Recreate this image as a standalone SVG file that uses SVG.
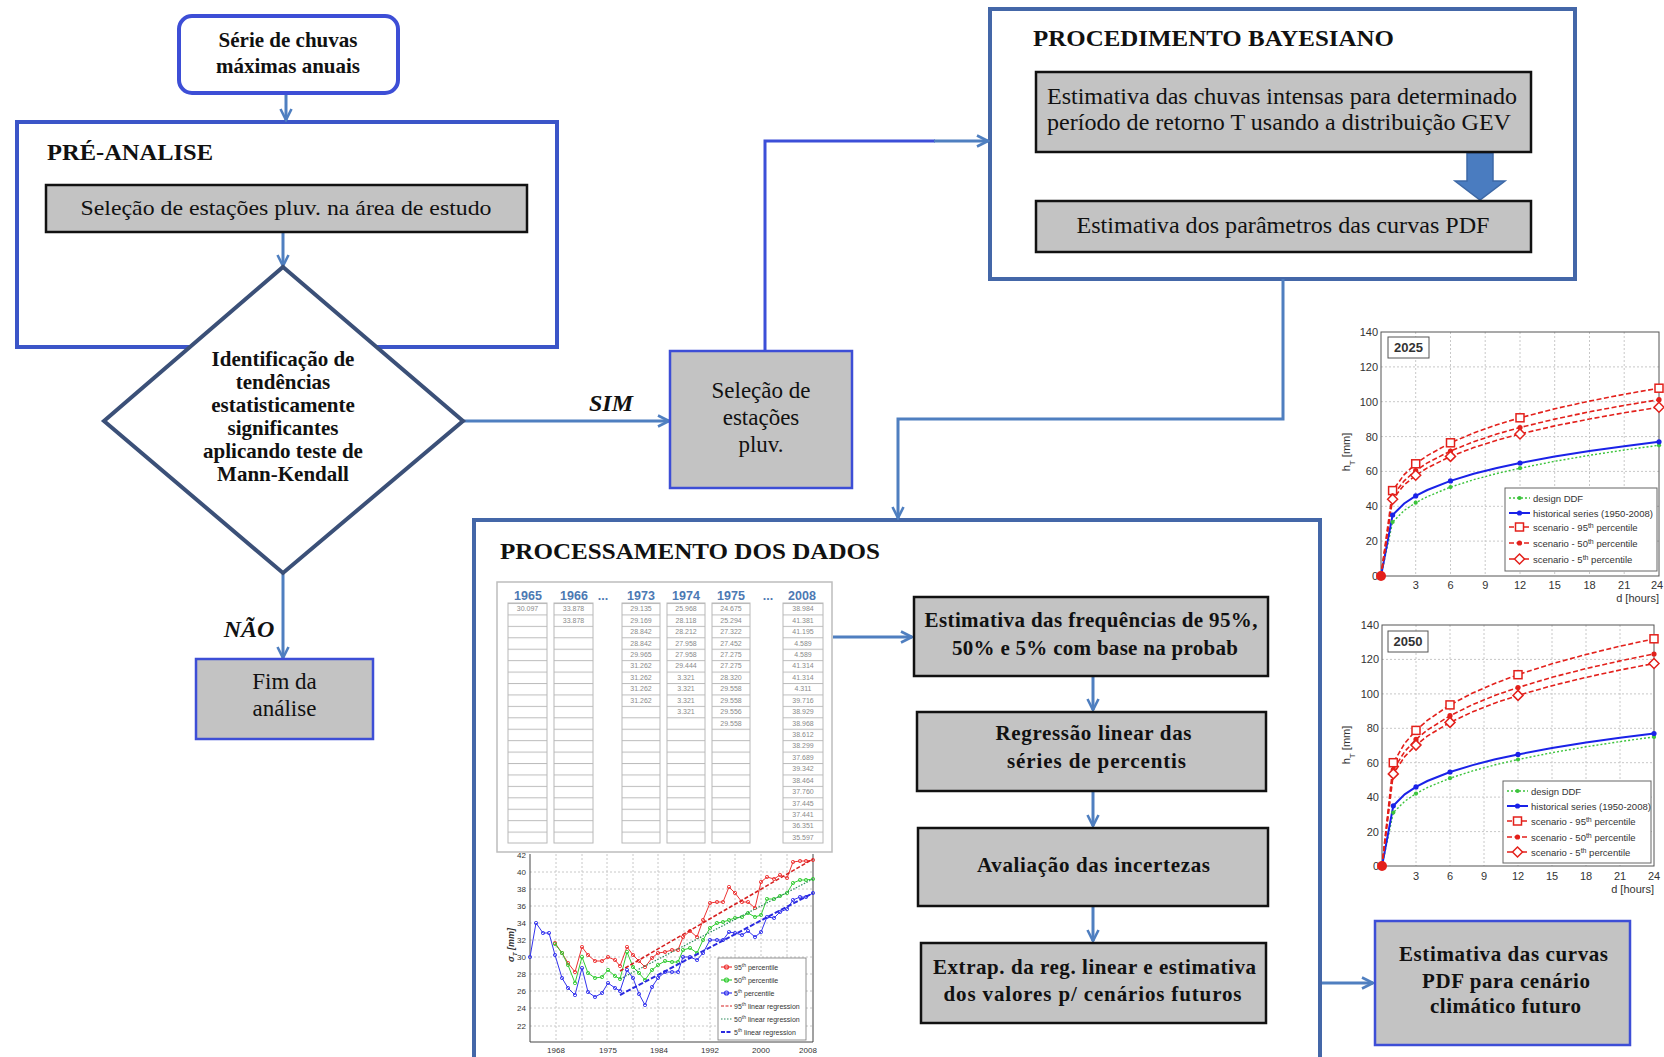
<svg xmlns="http://www.w3.org/2000/svg" xmlns:xlink="http://www.w3.org/1999/xlink" width="1664" height="1057" viewBox="0 0 1664 1057">
<style>
.serif{font-family:"Liberation Serif","Times New Roman",serif;fill:#111}
.b{font-weight:bold}
.title{font-family:"Liberation Serif",serif;font-weight:bold;font-size:24px;fill:#111}
.gbox{fill:#c3c3c3;stroke:#111;stroke-width:2.5}
.bbox{fill:#c3c3c3;stroke:#3d4ed6;stroke-width:2.5}
.conn{fill:none;stroke:#4f7fc0;stroke-width:3}
.sans{font-family:"Liberation Sans",Arial,sans-serif;fill:#333}
.grid{stroke:#c8c8c8;stroke-width:1;stroke-dasharray:2 2;fill:none}
.frame{fill:none;stroke:#555;stroke-width:1}
.cell{font-family:"Liberation Sans",Arial,sans-serif;font-size:7px;fill:#8a8a8a;text-anchor:middle}
.hdr{font-family:"Liberation Sans",Arial,sans-serif;font-size:12.5px;font-weight:bold;fill:#4d79b3;text-anchor:middle}
</style>
<defs>
<marker id="arr" viewBox="0 0 14 14" refX="12.5" refY="7" markerWidth="14" markerHeight="14" markerUnits="userSpaceOnUse" orient="auto">
<path d="M1.5,1.5 L12.5,7 L1.5,12.5" fill="none" stroke="#4f7fc0" stroke-width="2.6"/>
</marker>
<pattern id="rows" x="0" y="603" width="20" height="11.43" patternUnits="userSpaceOnUse">
<rect width="20" height="11.43" fill="#fff"/>
<line x1="0" y1="0.5" x2="20" y2="0.5" stroke="#bdbdbd" stroke-width="1"/>
</pattern>
<rect id="sq" x="-4" y="-4" width="8" height="8" fill="#fff" stroke="#e3201b" stroke-width="1.5"/>
<path id="dm" d="M0,-5 L5,0 L0,5 L-5,0 Z" fill="#fff" stroke="#e3201b" stroke-width="1.5"/>
<circle id="dR" r="2.6" fill="#e3201b"/>
<circle id="dB" r="2.6" fill="#1a22e8"/>
<circle id="dG" r="2.1" fill="#3cc43c"/>
<marker id="mR" viewBox="0 0 6 6" refX="3" refY="3" markerWidth="5" markerHeight="5" markerUnits="userSpaceOnUse"><circle cx="3" cy="3" r="2" fill="none" stroke="#e33" stroke-width="1"/></marker>
<marker id="mG" viewBox="0 0 6 6" refX="3" refY="3" markerWidth="5" markerHeight="5" markerUnits="userSpaceOnUse"><circle cx="3" cy="3" r="2" fill="none" stroke="#3c3" stroke-width="1"/></marker>
<marker id="mB" viewBox="0 0 6 6" refX="3" refY="3" markerWidth="5" markerHeight="5" markerUnits="userSpaceOnUse"><circle cx="3" cy="3" r="2" fill="none" stroke="#33e" stroke-width="1"/></marker>
</defs>

<rect width="1664" height="1057" fill="#fff"/>

<!-- Containers -->
<g id="pre-analise">
<rect x="17" y="122" width="540" height="225" fill="#fff" stroke="#3b55c8" stroke-width="4"/>
<text class="title" x="47" y="160" textLength="166" lengthAdjust="spacingAndGlyphs">PRÉ-ANALISE</text>
</g>
<g id="procedimento-bayesiano">
<rect x="990" y="9" width="585" height="270" fill="#fff" stroke="#4467a8" stroke-width="4"/>
<text class="title" x="1033" y="46" textLength="361" lengthAdjust="spacingAndGlyphs">PROCEDIMENTO BAYESIANO</text>
</g>
<g id="processamento-dos-dados">
<rect x="474" y="520" width="846" height="540" fill="#fff" stroke="#4467a8" stroke-width="4"/>
<text class="title" x="500" y="559" textLength="380" lengthAdjust="spacingAndGlyphs">PROCESSAMENTO DOS DADOS</text>
</g>

<!-- Connectors -->
<g id="connectors">
<path class="conn" d="M286,93 V120" marker-end="url(#arr)"/>
<path class="conn" d="M283,232 V266" marker-end="url(#arr)"/>
<path class="conn" d="M463,421 H669" marker-end="url(#arr)"/>
<path class="conn" d="M283,573 V658" marker-end="url(#arr)"/>
<path fill="none" stroke="#3c4fd8" stroke-width="3" d="M765,350 V141 H935"/>
<path class="conn" d="M934,141 H988" marker-end="url(#arr)"/>
<path class="conn" d="M1283,279 V419 H898 V518" marker-end="url(#arr)"/>
<path class="conn" d="M833,637 H912" marker-end="url(#arr)"/>
<path class="conn" d="M1093,676 V710" marker-end="url(#arr)"/>
<path class="conn" d="M1093,791 V826" marker-end="url(#arr)"/>
<path class="conn" d="M1093,906 V941" marker-end="url(#arr)"/>
<path class="conn" d="M1322,983 H1373" marker-end="url(#arr)"/>
<path d="M1467,153 H1493 V181 H1505 L1480,200 L1455,181 H1467 Z" fill="#4a7cc0" stroke="#3d68a6" stroke-width="1.5"/>
<text class="serif b" x="611" y="411" font-size="24" font-style="italic" text-anchor="middle">SIM</text>
<text class="serif b" x="249" y="637" font-size="24" font-style="italic" text-anchor="middle">NÃO</text>
</g>

<!-- Nodes -->
<g id="serie-chuvas">
<rect x="179" y="16" width="219" height="77" rx="13" fill="#fff" stroke="#3d4ed6" stroke-width="4"/>
<text class="serif b" x="288" y="47" font-size="21" text-anchor="middle">Série de chuvas</text>
<text class="serif b" x="288" y="73" font-size="21" text-anchor="middle">máximas anuais</text>
</g>
<g id="selecao-area">
<rect class="gbox" x="46" y="185" width="481" height="47"/>
<text class="serif" x="286" y="215" font-size="22" text-anchor="middle" textLength="411" lengthAdjust="spacingAndGlyphs">Seleção de estações pluv. na área de estudo</text>
</g>
<g id="mann-kendall">
<path d="M283,267 L463,421 L283,573 L104,421 Z" fill="#fff" stroke="#3b5078" stroke-width="4" stroke-linejoin="miter"/>
<g class="serif b" font-size="21" text-anchor="middle">
<text x="283" y="366">Identificação de</text>
<text x="283" y="389">tendências</text>
<text x="283" y="412">estatisticamente</text>
<text x="283" y="435">significantes</text>
<text x="283" y="458">aplicando teste de</text>
<text x="283" y="481">Mann-Kendall</text>
</g>
</g>
<g id="selecao-estacoes">
<rect class="bbox" x="670" y="351" width="182" height="137"/>
<g class="serif" font-size="23" text-anchor="middle">
<text x="761" y="398">Seleção de</text>
<text x="761" y="425">estações</text>
<text x="761" y="452">pluv.</text>
</g>
</g>
<g id="fim-analise">
<rect class="bbox" x="196" y="659" width="177" height="80"/>
<text class="serif" x="284.5" y="689" font-size="23" text-anchor="middle">Fim da</text>
<text class="serif" x="284.5" y="716" font-size="23" text-anchor="middle">análise</text>
</g>
<g id="estimativa-chuvas">
<rect class="gbox" x="1036" y="72" width="495" height="80"/>
<text class="serif" x="1047" y="104" font-size="23" textLength="470" lengthAdjust="spacingAndGlyphs">Estimativa das chuvas intensas para determinado</text>
<text class="serif" x="1047" y="130" font-size="23" textLength="464" lengthAdjust="spacingAndGlyphs">período de retorno T usando a distribuição GEV</text>
</g>
<g id="estimativa-parametros">
<rect class="gbox" x="1036" y="201" width="495" height="51"/>
<text class="serif" x="1283" y="233" font-size="23" text-anchor="middle" textLength="413" lengthAdjust="spacingAndGlyphs">Estimativa dos parâmetros das curvas PDF</text>
</g>
<g id="estimativa-frequencias">
<rect class="gbox" x="914" y="597" width="354" height="79"/>
<text class="serif b" x="1091" y="627" font-size="21" text-anchor="middle" textLength="333" lengthAdjust="spacing">Estimativa das frequências de 95%,</text>
<text class="serif b" x="1095" y="655" font-size="21" text-anchor="middle" textLength="286" lengthAdjust="spacing">50% e 5% com base na probab</text>
</g>
<g id="regressao-linear">
<rect class="gbox" x="917" y="712" width="349" height="79"/>
<text class="serif b" x="1093.5" y="740" font-size="21" text-anchor="middle" textLength="196" lengthAdjust="spacing">Regressão linear das</text>
<text class="serif b" x="1096.5" y="768" font-size="21" text-anchor="middle" textLength="179" lengthAdjust="spacing">séries de percentis</text>
</g>
<g id="avaliacao-incertezas">
<rect class="gbox" x="918" y="828" width="350" height="78"/>
<text class="serif b" x="1093.5" y="872" font-size="21" text-anchor="middle" textLength="233" lengthAdjust="spacing">Avaliação das incertezas</text>
</g>
<g id="extrapolacao">
<rect class="gbox" x="921" y="943" width="345" height="80"/>
<text class="serif b" x="1094.5" y="974" font-size="21" text-anchor="middle" textLength="323" lengthAdjust="spacing">Extrap. da reg. linear e estimativa</text>
<text class="serif b" x="1092.5" y="1001" font-size="21" text-anchor="middle" textLength="298" lengthAdjust="spacing">dos valores p/ cenários futuros</text>
</g>
<g id="estimativa-curvas-pdf">
<rect class="bbox" x="1375" y="921" width="255" height="124"/>
<text class="serif b" x="1503.5" y="961" font-size="21" text-anchor="middle" textLength="209" lengthAdjust="spacing">Estimativa das curvas</text>
<text class="serif b" x="1506" y="988" font-size="21" text-anchor="middle" textLength="168" lengthAdjust="spacing">PDF para cenário</text>
<text class="serif b" x="1505.5" y="1013" font-size="21" text-anchor="middle" textLength="151" lengthAdjust="spacing">climático futuro</text>
</g>

<!-- Data table -->
<g id="tabela-dados">
<rect x="497" y="582" width="335" height="270" fill="#fff" stroke="#bdbdbd" stroke-width="1.5"/>
<text class="hdr" x="528" y="600">1965</text>
<text class="hdr" x="574" y="600">1966</text>
<text class="hdr" x="603" y="600" font-size="9">...</text>
<text class="hdr" x="641" y="600">1973</text>
<text class="hdr" x="686" y="600">1974</text>
<text class="hdr" x="731" y="600">1975</text>
<text class="hdr" x="768" y="600" font-size="9">...</text>
<text class="hdr" x="802" y="600">2008</text>
<g fill="url(#rows)" stroke="#b8b8b8" stroke-width="1">
<rect x="508" y="603" width="39" height="240"/>
<rect x="554" y="603" width="39" height="240"/>
<rect x="622" y="603" width="38" height="240"/>
<rect x="667" y="603" width="38" height="240"/>
<rect x="712" y="603" width="38" height="240"/>
<rect x="783" y="603" width="40" height="240"/>
</g>
<text class="cell"><tspan x="527.5" y="611.2">30.097</tspan></text>
<text class="cell"><tspan x="573.5" y="611.2">33.878</tspan><tspan x="573.5" y="622.6">33.878</tspan></text>
<text class="cell"><tspan x="641" y="611.2">29.135</tspan><tspan x="641" y="622.6">29.169</tspan><tspan x="641" y="634.1">28.842</tspan><tspan x="641" y="645.5">28.842</tspan><tspan x="641" y="656.9">29.965</tspan><tspan x="641" y="668.4">31.262</tspan><tspan x="641" y="679.8">31.262</tspan><tspan x="641" y="691.2">31.262</tspan><tspan x="641" y="702.6">31.262</tspan></text>
<text class="cell"><tspan x="686" y="611.2">25.968</tspan><tspan x="686" y="622.6">28.118</tspan><tspan x="686" y="634.1">28.212</tspan><tspan x="686" y="645.5">27.958</tspan><tspan x="686" y="656.9">27.958</tspan><tspan x="686" y="668.4">29.444</tspan><tspan x="686" y="679.8">3.321</tspan><tspan x="686" y="691.2">3.321</tspan><tspan x="686" y="702.6">3.321</tspan><tspan x="686" y="714.1">3.321</tspan></text>
<text class="cell"><tspan x="731" y="611.2">24.675</tspan><tspan x="731" y="622.6">25.294</tspan><tspan x="731" y="634.1">27.322</tspan><tspan x="731" y="645.5">27.452</tspan><tspan x="731" y="656.9">27.275</tspan><tspan x="731" y="668.4">27.275</tspan><tspan x="731" y="679.8">28.320</tspan><tspan x="731" y="691.2">29.558</tspan><tspan x="731" y="702.6">29.558</tspan><tspan x="731" y="714.1">29.556</tspan><tspan x="731" y="725.5">29.558</tspan></text>
<text class="cell"><tspan x="803" y="611.2">38.984</tspan><tspan x="803" y="622.6">41.381</tspan><tspan x="803" y="634.1">41.195</tspan><tspan x="803" y="645.5">4.589</tspan><tspan x="803" y="656.9">4.589</tspan><tspan x="803" y="668.4">41.314</tspan><tspan x="803" y="679.8">41.314</tspan><tspan x="803" y="691.2">4.311</tspan><tspan x="803" y="702.6">39.716</tspan><tspan x="803" y="714.1">38.929</tspan><tspan x="803" y="725.5">38.968</tspan><tspan x="803" y="736.9">38.612</tspan><tspan x="803" y="748.4">38.299</tspan><tspan x="803" y="759.8">37.689</tspan><tspan x="803" y="771.2">39.342</tspan><tspan x="803" y="782.7">38.464</tspan><tspan x="803" y="794.1">37.760</tspan><tspan x="803" y="805.5">37.445</tspan><tspan x="803" y="816.9">37.441</tspan><tspan x="803" y="828.4">36.351</tspan><tspan x="803" y="839.8">35.597</tspan></text>
</g>

<!-- Percentile series chart -->
<g id="grafico-percentis">
<g class="grid">
<path d="M556,854V1042M582,854V1042M607,854V1042M633,854V1042M658,854V1042M684,854V1042M710,854V1042M735,854V1042M761,854V1042M787,854V1042"/>
<path d="M530,872H813M530,889H813M530,906H813M530,923H813M530,940H813M530,957H813M530,974H813M530,991H813M530,1008H813M530,1026H813"/>
</g>
<path d="M530,854V1042H813V854" fill="none" stroke="#444" stroke-width="1"/>
<g class="sans" font-size="8" text-anchor="end">
<text x="526" y="858">42</text><text x="526" y="875">40</text><text x="526" y="892">38</text><text x="526" y="909">36</text><text x="526" y="926">34</text><text x="526" y="943">32</text><text x="526" y="960">30</text><text x="526" y="977">28</text><text x="526" y="994">26</text><text x="526" y="1011">24</text><text x="526" y="1029">22</text>
</g>
<g class="sans" font-size="8" text-anchor="middle">
<text x="556" y="1053">1968</text><text x="608" y="1053">1975</text><text x="659" y="1053">1984</text><text x="710" y="1053">1992</text><text x="761" y="1053">2000</text><text x="808" y="1053">2008</text>
</g>
<text class="sans" font-size="9" font-weight="bold" font-style="italic" transform="translate(514,945) rotate(-90)" text-anchor="middle">σ<tspan font-size="6" baseline-shift="sub">T</tspan> [mm]</text>
<polyline fill="none" stroke="#e33" stroke-width="1" marker-start="url(#mR)" marker-mid="url(#mR)" marker-end="url(#mR)" points="555,943 562,953 568,963 575,972 582,947 588,955 595,961 602,961 608,957 615,960 620,966 627,947 633,955 639,961 645,967 652,958 658,953 665,952 672,950 678,950 683,937 690,931 697,937 703,920 710,903 717,902 723,902 729,887 735,893 742,902 748,902 755,908 761,882 767,877 774,879 780,875 787,878 793,862 800,861 806,861 813,860"/>
<polyline fill="none" stroke="#3c3" stroke-width="1" marker-start="url(#mG)" marker-mid="url(#mG)" marker-end="url(#mG)" points="555,944 562,953 568,965 575,983 582,957 588,973 595,978 602,977 608,970 615,976 620,979 627,952 633,967 639,973 645,980 652,970 658,965 665,961 672,962 678,962 683,950 690,948 697,953 703,940 710,928 717,923 723,922 729,920 735,918 742,917 748,913 755,917 761,915 767,899 774,899 780,896 787,893 793,883 800,880 806,880 813,879"/>
<polyline fill="none" stroke="#33e" stroke-width="1" marker-start="url(#mB)" marker-mid="url(#mB)" marker-end="url(#mB)" points="530,957 536,923 543,933 549,933 555,955 562,978 568,988 575,995 582,968 588,992 595,997 602,993 608,983 615,988 620,991 627,970 633,978 639,994 645,1005 652,987 658,978 665,972 672,972 678,972 683,957 690,957 697,960 703,953 710,940 717,940 723,940 729,932 735,933 742,935 748,931 755,937 761,932 767,917 774,918 780,912 787,909 793,900 800,897 806,897 813,893"/>
<path d="M620,971 L813,859" stroke="#d62020" stroke-width="1.6" stroke-dasharray="4 2" fill="none"/>
<path d="M620,979 L813,879" stroke="#2a8a5a" stroke-width="1.2" stroke-dasharray="1.5 1.5" fill="none"/>
<path d="M620,995 L813,893" stroke="#2a2ae0" stroke-width="2" stroke-dasharray="5 2" fill="none"/>
<rect x="718" y="958" width="88" height="82" fill="#fff" stroke="#777" stroke-width="0.8"/>
<g stroke-width="1.2" fill="none">
<path d="M721,967H732" stroke="#e33"/><circle cx="726.5" cy="967" r="2" stroke="#e33"/>
<path d="M721,980H732" stroke="#3c3"/><circle cx="726.5" cy="980" r="2" stroke="#3c3"/>
<path d="M721,993H732" stroke="#33e"/><circle cx="726.5" cy="993" r="2" stroke="#33e"/>
<path d="M721,1006H732" stroke="#d62020" stroke-dasharray="3 1.5"/>
<path d="M721,1019H732" stroke="#2a8a5a" stroke-dasharray="1.5 1.5"/>
<path d="M721,1032H732" stroke="#2a2ae0" stroke-width="2" stroke-dasharray="4 1.5"/>
</g>
<g class="sans" font-size="7">
<text x="734" y="969.5">95<tspan font-size="5" baseline-shift="super">th</tspan> percentile</text>
<text x="734" y="982.5">50<tspan font-size="5" baseline-shift="super">th</tspan> percentile</text>
<text x="734" y="995.5">5<tspan font-size="5" baseline-shift="super">th</tspan> percentile</text>
<text x="734" y="1008.5">95<tspan font-size="5" baseline-shift="super">th</tspan> linear regression</text>
<text x="734" y="1021.5">50<tspan font-size="5" baseline-shift="super">th</tspan> linear regression</text>
<text x="734" y="1034.5">5<tspan font-size="5" baseline-shift="super">th</tspan> linear regression</text>
</g>
</g>

<!-- Chart 2025 -->
<g id="grafico-2025">
<g class="grid">
<path d="M1415.7,332V576M1450.5,332V576M1485.2,332V576M1520,332V576M1554.7,332V576M1589.5,332V576M1624.2,332V576"/>
<path d="M1381,541.1H1659M1381,506.3H1659M1381,471.4H1659M1381,436.6H1659M1381,401.7H1659M1381,366.9H1659"/>
</g>
<rect class="frame" x="1381" y="332" width="278" height="244"/>
<g class="sans" font-size="11" text-anchor="end">
<text x="1378" y="336">140</text><text x="1378" y="371">120</text><text x="1378" y="406">100</text><text x="1378" y="441">80</text><text x="1378" y="475">60</text><text x="1378" y="510">40</text><text x="1378" y="545">20</text><text x="1378" y="580">0</text>
</g>
<g class="sans" font-size="11" text-anchor="middle">
<text x="1415.7" y="589">3</text><text x="1450.5" y="589">6</text><text x="1485.2" y="589">9</text><text x="1520" y="589">12</text><text x="1554.7" y="589">15</text><text x="1589.5" y="589">18</text><text x="1624.2" y="589">21</text><text x="1657" y="589">24</text>
</g>
<text class="sans" font-size="11" x="1659" y="602" text-anchor="end">d [hours]</text>
<text class="sans" font-size="11" transform="translate(1350,452) rotate(-90)" text-anchor="middle">h<tspan font-size="8" baseline-shift="sub">T</tspan> [mm]</text>
<rect x="1388" y="337" width="41" height="21" fill="#fff" stroke="#555" stroke-width="1"/>
<text class="sans" font-size="13" font-weight="bold" x="1408.5" y="352" text-anchor="middle" fill="#111">2025</text>
<polyline fill="none" stroke="#3cc43c" stroke-width="1.4" stroke-dasharray="2 2" points="1381,576 1392.6,522.0 1404.2,510.5 1415.7,502.7 1427.3,496.6 1450.5,487.1 1473.7,479.7 1496.8,473.5 1520,468.2 1554.7,461.3 1589.5,455.3 1624.2,450.0 1659,445.3"/>
<polyline fill="none" stroke="#1a22e8" stroke-width="2" points="1381,576 1392.6,515.0 1404.2,503.5 1415.7,495.9 1427.3,490.0 1450.5,480.9 1473.7,473.8 1496.8,468.0 1520,463.0 1554.7,456.6 1589.5,451.1 1624.2,446.2 1659,441.8"/>
<g fill="none" stroke="#e3201b" stroke-width="1.6" stroke-dasharray="5 2.5">
<polyline points="1381,576 1392.6,490.6 1404.2,474.6 1415.7,463.8 1427.3,455.6 1450.5,442.8 1473.7,433.0 1496.8,424.8 1520,417.8 1554.7,408.8 1589.5,401.1 1624.2,394.3 1659,388.2"/>
<polyline points="1381,576 1392.6,495.8 1404.2,480.8 1415.7,470.7 1427.3,462.9 1450.5,451.0 1473.7,441.7 1496.8,434.1 1520,427.5 1554.7,419.1 1589.5,411.8 1624.2,405.4 1659,399.7"/>
<polyline points="1381,576 1392.6,499.3 1404.2,484.9 1415.7,475.3 1427.3,467.9 1450.5,456.4 1473.7,447.6 1496.8,440.2 1520,434.0 1554.7,425.9 1589.5,419.0 1624.2,412.8 1659,407.3"/>
</g>
<use href="#dG" x="1392.6" y="522"/><use href="#dG" x="1415.7" y="502.7"/><use href="#dG" x="1450.5" y="487.1"/><use href="#dG" x="1520" y="468.2"/><use href="#dG" x="1659" y="445.3"/>
<use href="#dB" x="1392.6" y="515"/><use href="#dB" x="1415.7" y="495.9"/><use href="#dB" x="1450.5" y="480.9"/><use href="#dB" x="1520" y="463"/><use href="#dB" x="1659" y="441.8"/>
<use href="#sq" x="1392.6" y="490.6"/><use href="#sq" x="1415.7" y="463.8"/><use href="#sq" x="1450.5" y="442.8"/><use href="#sq" x="1520" y="417.8"/><use href="#sq" x="1659" y="388.2"/>
<use href="#dR" x="1392.6" y="495.8"/><use href="#dR" x="1415.7" y="470.7"/><use href="#dR" x="1450.5" y="451"/><use href="#dR" x="1520" y="427.5"/><use href="#dR" x="1659" y="399.7"/>
<use href="#dm" x="1392.6" y="499.3"/><use href="#dm" x="1415.7" y="475.3"/><use href="#dm" x="1450.5" y="456.4"/><use href="#dm" x="1520" y="434"/><use href="#dm" x="1659" y="407.3"/>
<circle cx="1381" cy="576" r="5" fill="#e3201b"/>
<rect x="1505" y="488" width="152" height="83" fill="#fff" stroke="#666" stroke-width="1"/>
<path d="M1509,498H1530" stroke="#3cc43c" stroke-width="1.4" stroke-dasharray="2 2"/><use href="#dG" x="1519.5" y="498"/>
<path d="M1509,513H1530" stroke="#1a22e8" stroke-width="2"/><use href="#dB" x="1519.5" y="513"/>
<path d="M1509,527H1530" stroke="#e3201b" stroke-width="1.6" stroke-dasharray="5 2.5"/><use href="#sq" x="1519.5" y="527"/>
<path d="M1509,543H1530" stroke="#e3201b" stroke-width="1.6" stroke-dasharray="5 2.5"/><use href="#dR" x="1519.5" y="543"/>
<path d="M1509,559H1530" stroke="#e3201b" stroke-width="1.6" stroke-dasharray="5 2.5"/><use href="#dm" x="1519.5" y="559"/>
<g class="sans" font-size="9.5">
<text x="1533" y="501.5">design DDF</text>
<text x="1533" y="516.5">historical series (1950-2008)</text>
<text x="1533" y="530.5">scenario - 95<tspan font-size="7" baseline-shift="super">th</tspan> percentile</text>
<text x="1533" y="546.5">scenario - 50<tspan font-size="7" baseline-shift="super">th</tspan> percentile</text>
<text x="1533" y="562.5">scenario - 5<tspan font-size="7" baseline-shift="super">th</tspan> percentile</text>
</g>
</g>

<!-- Chart 2050 -->
<g id="grafico-2050">
<g class="grid">
<path d="M1416,625V866M1450,625V866M1484,625V866M1518,625V866M1552,625V866M1586,625V866M1620,625V866"/>
<path d="M1382,831.6H1654M1382,797.1H1654M1382,762.7H1654M1382,728.3H1654M1382,693.9H1654M1382,659.4H1654"/>
</g>
<rect class="frame" x="1382" y="625" width="272" height="241"/>
<g class="sans" font-size="11" text-anchor="end">
<text x="1379" y="629">140</text><text x="1379" y="663">120</text><text x="1379" y="698">100</text><text x="1379" y="732">80</text><text x="1379" y="767">60</text><text x="1379" y="801">40</text><text x="1379" y="836">20</text><text x="1379" y="870">0</text>
</g>
<g class="sans" font-size="11" text-anchor="middle">
<text x="1416" y="880">3</text><text x="1450" y="880">6</text><text x="1484" y="880">9</text><text x="1518" y="880">12</text><text x="1552" y="880">15</text><text x="1586" y="880">18</text><text x="1620" y="880">21</text><text x="1654" y="880">24</text>
</g>
<text class="sans" font-size="11" x="1654" y="893" text-anchor="end">d [hours]</text>
<text class="sans" font-size="11" transform="translate(1350,745) rotate(-90)" text-anchor="middle">h<tspan font-size="8" baseline-shift="sub">T</tspan> [mm]</text>
<rect x="1388" y="631" width="40" height="21" fill="#fff" stroke="#555" stroke-width="1"/>
<text class="sans" font-size="13" font-weight="bold" x="1408" y="646" text-anchor="middle" fill="#111">2050</text>
<polyline fill="none" stroke="#3cc43c" stroke-width="1.4" stroke-dasharray="2 2" points="1382,866 1393.3,812.6 1404.7,801.3 1416,793.6 1427.3,787.6 1450,778.2 1472.7,770.9 1495.3,764.8 1518,759.5 1552,752.7 1586,746.8 1620,741.6 1654,736.9"/>
<polyline fill="none" stroke="#1a22e8" stroke-width="2" points="1382,866 1393.3,805.8 1404.7,794.4 1416,786.9 1427.3,781.0 1450,772.0 1472.7,765.1 1495.3,759.3 1518,754.4 1552,748.1 1586,742.6 1620,737.8 1654,733.5"/>
<g fill="none" stroke="#e3201b" stroke-width="1.6" stroke-dasharray="5 2.5">
<polyline points="1382,866 1393.3,762.7 1404.7,743.3 1416,730.4 1427.3,720.4 1450,704.9 1472.7,693.0 1495.3,683.2 1518,674.7 1552,663.8 1586,654.5 1620,646.2 1654,638.8"/>
<polyline points="1382,866 1393.3,769.6 1404.7,751.5 1416,739.4 1427.3,730.1 1450,715.7 1472.7,704.6 1495.3,695.3 1518,687.5 1552,677.3 1586,668.6 1620,660.9 1654,654.0"/>
<polyline points="1382,866 1393.3,773.9 1404.7,756.6 1416,745.1 1427.3,736.1 1450,722.4 1472.7,711.8 1495.3,702.9 1518,695.4 1552,685.7 1586,677.4 1620,670.0 1654,663.5"/>
</g>
<use href="#dG" x="1393.3" y="812.6"/><use href="#dG" x="1416" y="793.6"/><use href="#dG" x="1450" y="778.2"/><use href="#dG" x="1518" y="759.5"/><use href="#dG" x="1654" y="736.9"/>
<use href="#dB" x="1393.3" y="805.8"/><use href="#dB" x="1416" y="786.9"/><use href="#dB" x="1450" y="772"/><use href="#dB" x="1518" y="754.4"/><use href="#dB" x="1654" y="733.5"/>
<use href="#sq" x="1393.3" y="762.7"/><use href="#sq" x="1416" y="730.4"/><use href="#sq" x="1450" y="704.9"/><use href="#sq" x="1518" y="674.7"/><use href="#sq" x="1654" y="638.8"/>
<use href="#dR" x="1393.3" y="769.6"/><use href="#dR" x="1416" y="739.4"/><use href="#dR" x="1450" y="715.7"/><use href="#dR" x="1518" y="687.5"/><use href="#dR" x="1654" y="654"/>
<use href="#dm" x="1393.3" y="773.9"/><use href="#dm" x="1416" y="745.1"/><use href="#dm" x="1450" y="722.4"/><use href="#dm" x="1518" y="695.4"/><use href="#dm" x="1654" y="663.5"/>
<circle cx="1382" cy="866" r="5" fill="#e3201b"/>
<rect x="1503" y="781" width="148" height="82" fill="#fff" stroke="#666" stroke-width="1"/>
<path d="M1507,791H1528" stroke="#3cc43c" stroke-width="1.4" stroke-dasharray="2 2"/><use href="#dG" x="1517.5" y="791"/>
<path d="M1507,806H1528" stroke="#1a22e8" stroke-width="2"/><use href="#dB" x="1517.5" y="806"/>
<path d="M1507,821H1528" stroke="#e3201b" stroke-width="1.6" stroke-dasharray="5 2.5"/><use href="#sq" x="1517.5" y="821"/>
<path d="M1507,837H1528" stroke="#e3201b" stroke-width="1.6" stroke-dasharray="5 2.5"/><use href="#dR" x="1517.5" y="837"/>
<path d="M1507,852H1528" stroke="#e3201b" stroke-width="1.6" stroke-dasharray="5 2.5"/><use href="#dm" x="1517.5" y="852"/>
<g class="sans" font-size="9.5">
<text x="1531" y="794.5">design DDF</text>
<text x="1531" y="809.5">historical series (1950-2008)</text>
<text x="1531" y="824.5">scenario - 95<tspan font-size="7" baseline-shift="super">th</tspan> percentile</text>
<text x="1531" y="840.5">scenario - 50<tspan font-size="7" baseline-shift="super">th</tspan> percentile</text>
<text x="1531" y="855.5">scenario - 5<tspan font-size="7" baseline-shift="super">th</tspan> percentile</text>
</g>
</g>
</svg>
